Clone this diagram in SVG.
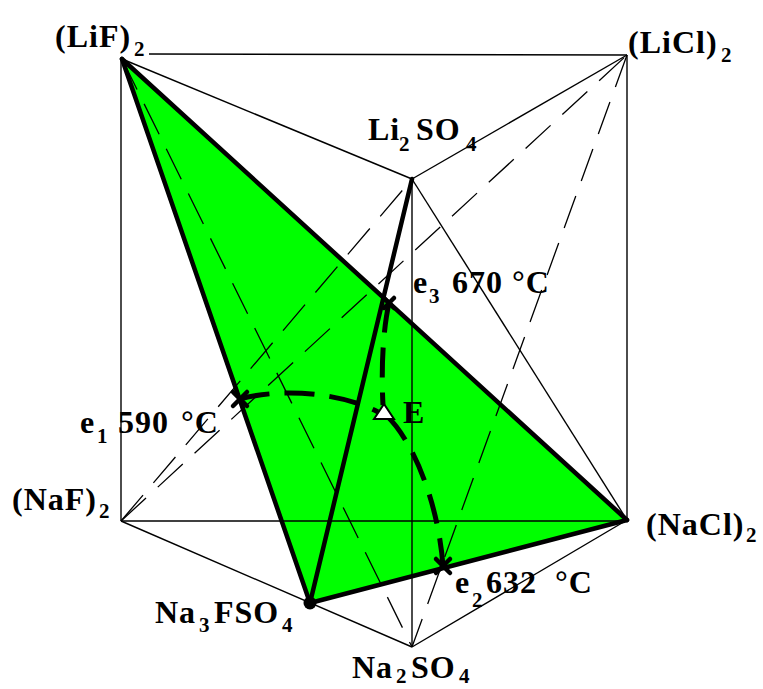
<svg xmlns="http://www.w3.org/2000/svg" width="763" height="689" viewBox="0 0 763 689">
<style>
.thin{stroke:#000;stroke-width:1.4;fill:none}
.dash{stroke:#000;stroke-width:1.3;fill:none;stroke-dasharray:34 16}
.thick{stroke:#000;stroke-width:4.5;fill:none;stroke-linecap:round}
.curve{stroke:#000;stroke-width:5;fill:none;stroke-dasharray:30 15}
.mark{stroke:#000;stroke-width:4.5;stroke-linecap:round}
text{font-family:"Liberation Serif","Times New Roman",serif;font-weight:bold;font-size:32px;letter-spacing:1px;fill:#000}
.sub{font-size:21px;letter-spacing:0}
</style>
<rect width="763" height="689" fill="#fff"/>
<g id="face">
<polygon points="122,59 627,520 310,603" fill="#00ff00"/>
</g>
<g id="connectors">
<line class="thin" x1="149" y1="54" x2="627" y2="55"/>
<line class="thin" x1="121" y1="59" x2="121" y2="521"/>
<line class="thin" x1="627" y1="55" x2="627" y2="520"/>
<line class="thin" x1="121" y1="521" x2="627" y2="521"/>
<line class="thin" x1="122" y1="59" x2="412" y2="179"/>
<line class="thin" x1="627" y1="55" x2="412" y2="179"/>
<line class="thin" x1="412" y1="179" x2="412" y2="647"/>
<line class="thin" x1="412" y1="179" x2="627" y2="520"/>
<line class="thin" x1="121" y1="521" x2="412" y2="647"/>
<line class="thin" x1="627" y1="520" x2="412" y2="647"/>
<line class="dash" x1="121" y1="521" x2="412" y2="179"/>
<line class="dash" x1="121" y1="521" x2="627" y2="55"/>
<line class="dash" x1="122" y1="59" x2="412" y2="647"/>
<line class="dash" x1="627" y1="55" x2="412" y2="647"/>
<line class="thick" x1="122" y1="59" x2="310" y2="603"/>
<line class="thick" x1="122" y1="59" x2="627" y2="520"/>
<line class="thick" x1="310" y1="603" x2="627" y2="520"/>
<line class="thick" x1="310" y1="603" x2="412" y2="179"/>
<path class="curve" d="M240,399 C280,388 340,392 378,412"/>
<path class="curve" d="M389,303 C383,330 381,368 383,405"/>
<path class="curve" d="M387,416 C412,440 438,500 443,566"/>
</g>
<g id="markers">
<line class="mark" x1="233" y1="392" x2="247" y2="406"/>
<line class="mark" x1="233" y1="406" x2="247" y2="392"/>
<line class="mark" x1="436" y1="559" x2="450" y2="573"/>
<line class="mark" x1="436" y1="573" x2="450" y2="559"/>
<line class="mark" x1="384" y1="298" x2="394" y2="308"/>
<line class="mark" x1="384" y1="308" x2="394" y2="298"/>
<circle cx="310" cy="603" r="6.5" fill="#000"/>
<polygon points="384,404 374,419 394,419" fill="#fff" stroke="#000" stroke-width="2"/>
</g>
<g id="n-LiF"><text x="55" y="47">(LiF)</text><text class="sub" x="134" y="56">2</text></g>
<g id="n-LiCl"><text x="628" y="53">(LiCl)</text><text class="sub" x="721" y="62">2</text></g>
<g id="n-Li2SO4"><text x="368" y="140">Li</text><text class="sub" x="399" y="151">2</text><text x="416" y="140">SO</text><text class="sub" x="466" y="151">4</text></g>
<g id="n-NaF"><text x="12" y="510">(NaF)</text><text class="sub" x="99" y="518">2</text></g>
<g id="n-NaCl"><text x="646" y="535">(NaCl)</text><text class="sub" x="746" y="542">2</text></g>
<g id="n-Na3FSO4"><text x="155" y="623">Na</text><text class="sub" x="199" y="632">3</text><text x="214" y="623">FSO</text><text class="sub" x="282" y="632">4</text></g>
<g id="n-Na2SO4"><text x="352" y="678">Na</text><text class="sub" x="396" y="683">2</text><text x="411" y="678">SO</text><text class="sub" x="459" y="683">4</text></g>
<g id="n-e3"><text x="413" y="293">e</text><text class="sub" x="429" y="303">3</text><text x="452" y="293">670</text><text x="512" y="293">°C</text></g>
<g id="n-e1"><text x="80" y="433">e</text><text class="sub" x="97" y="443">1</text><text x="118" y="433">590</text><text x="181" y="433">°C</text></g>
<g id="n-e2"><text x="455" y="593">e</text><text class="sub" x="472" y="607">2</text><text x="486" y="593">632</text><text x="555" y="593">°C</text></g>
<g id="n-E"><text x="403" y="423">E</text></g>
</svg>
